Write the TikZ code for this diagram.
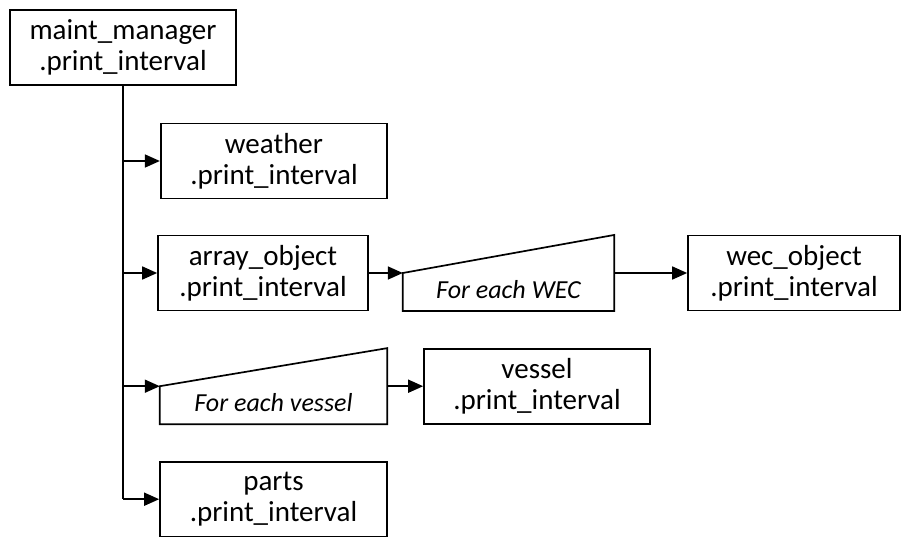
\documentclass[tikz,border=0pt]{standalone}
\usepackage{fontspec}
\setmainfont{Carlito}
\usetikzlibrary{arrows.meta,calc}

\tikzset{
  outline/.style={line width=1.7pt, line join=miter},
  callbox/.style={draw, outline, inner sep=0pt, minimum height=75pt,
    align=center, font=\fontsize{29pt}{31pt}\selectfont,
    execute at begin node={\rule{0pt}{26pt}}},
  loopbox/.style={inner sep=0pt, minimum height=75.7pt},
  looptext/.style={inner sep=0pt, anchor=base,
    font=\fontsize{26pt}{30pt}\selectfont\itshape},
  conn/.style={outline, -{Triangle[length=15pt,width=13pt]}},
  wire/.style={outline}
}

\begin{document}
\begin{tikzpicture}[x=1pt, y=-1pt]
  \useasboundingbox (0,0) rectangle (902,536);

  % call boxes
  \node[callbox, minimum width=226pt] (mm)      at (123,47.5)  {maint\_manager\\.print\_interval};
  \node[callbox, minimum width=226.6pt] (weather) at (274,161)   {weather\\.print\_interval};
  \node[callbox, minimum width=210pt] (array)   at (263,273)   {array\_object\\.print\_interval};
  \node[callbox, minimum width=212pt] (wec)     at (794,273)   {wec\_object\\.print\_interval};
  \node[callbox, minimum width=226pt] (vessel)  at (537,386.2) {vessel\\.print\_interval};
  \node[callbox, minimum width=227pt] (parts)   at (273.5,499.2) {parts\\.print\_interval};

  % loop blocks (sloped-top shapes)
  \node[loopbox, minimum width=211pt] (forwec)    at (508.5,273)   {};
  \node[loopbox, minimum width=227pt] (forvessel) at (273.5,386.2) {};
  \draw[outline] (forwec.south west) -- (forwec.south east) -- (forwec.north east) -- (forwec.west) -- cycle;
  \draw[outline] (forvessel.south west) -- (forvessel.south east) -- (forvessel.north east) -- (forvessel.west) -- cycle;
  \node[looptext] (forwectext)    at ([yshift=12.7pt]forwec.south)    {For each WEC};
  \node[looptext] (forvesseltext) at ([yshift=12.7pt]forvessel.south) {For each vessel};

  % trunk from the manager and its branches
  \coordinate (trunkend) at (mm.south |- parts.west);
  \draw[wire] (mm.south) -- (trunkend);
  \draw[conn] (mm.south |- weather.west) -- (weather.west);
  \draw[conn] (mm.south |- array.west) -- (array.west);
  \draw[conn] (mm.south |- forvessel.west) -- (forvessel.west);
  \draw[conn] (trunkend) -- (parts.west);

  % nested calls
  \draw[conn] (array.east) -- (forwec.west);
  \draw[conn] (forwec.east) -- (wec.west);
  \draw[conn] (forvessel.east) -- (vessel.west);
\end{tikzpicture}
\end{document}
